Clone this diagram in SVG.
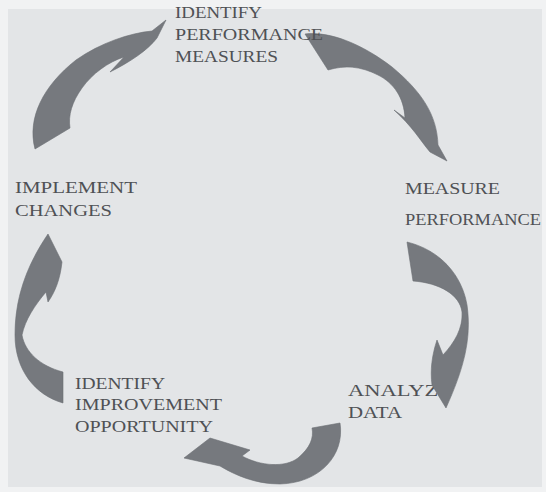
<svg xmlns="http://www.w3.org/2000/svg" width="546" height="492" viewBox="0 0 546 492">
<style>
.lbl{font-family:"Liberation Serif","Times New Roman",serif;font-size:17px;fill:#4f5155;}
.arr{fill:#76797e;stroke:#6c6f74;stroke-width:0.6;}
</style>
<rect x="0" y="0" width="546" height="492" fill="#f1f2f3"/>
<rect x="8" y="9" width="534" height="478" fill="#e3e5e7"/>
<g id="connectors">
<path class="arr" d="M35,149 C27,118 43,86 76,60 C100,43 130,33 152,31 L166,20 L157,38 C148,50 130,62 110,72 L124,57 C108,62 92,74 82,88 C72,102 68,115 70,128 Z"/>
<path class="arr" d="M305,34 C330,31 362,44 392,67 C422,92 437,115 438,145 L447,161 L430,152 C420,140 412,126 394,110 L405,118 C404,98 394,83 378,75 C360,66 345,65 328,70 Z"/>
</g>
<g id="n1">
<text class="lbl" x="175" y="18" textLength="87" lengthAdjust="spacingAndGlyphs">IDENTIFY</text>
<text class="lbl" x="175" y="40" textLength="148" lengthAdjust="spacingAndGlyphs">PERFORMANCE</text>
<text class="lbl" x="175" y="62" textLength="103" lengthAdjust="spacingAndGlyphs">MEASURES</text>
</g>
<g id="n2">
<text class="lbl" x="405" y="194" textLength="95" lengthAdjust="spacingAndGlyphs">MEASURE</text>
<text class="lbl" x="405" y="225" font-size="15" textLength="136" lengthAdjust="spacingAndGlyphs">PERFORMANCE</text>
</g>
<g id="n3">
<text class="lbl" x="348" y="396" textLength="104" lengthAdjust="spacingAndGlyphs">ANALYZE</text>
<text class="lbl" x="348" y="418" textLength="54" lengthAdjust="spacingAndGlyphs">DATA</text>
</g>
<g id="n4">
<text class="lbl" x="75" y="389" textLength="90" lengthAdjust="spacingAndGlyphs">IDENTIFY</text>
<text class="lbl" x="75" y="410" textLength="147" lengthAdjust="spacingAndGlyphs">IMPROVEMENT</text>
<text class="lbl" x="75" y="432" textLength="138" lengthAdjust="spacingAndGlyphs">OPPORTUNITY</text>
</g>
<g id="n5">
<text class="lbl" x="15" y="193" textLength="122" lengthAdjust="spacingAndGlyphs">IMPLEMENT</text>
<text class="lbl" x="15" y="216" textLength="97" lengthAdjust="spacingAndGlyphs">CHANGES</text>
</g>
<g id="connectors2">
<path class="arr" d="M407,242 C440,250 462,275 467,305 C472,340 463,370 446,408 L432,385 C430,370 432,355 437,340 L443,355 C455,342 463,328 462,312 C460,295 440,283 413,281 Z"/>
<path class="arr" d="M340,423 C345,455 320,483 280,484 C255,484 235,475 220,466 L184,458 L210,438 L250,450 L242,456 C260,466 285,468 298,458 C310,448 314,438 312,428 Z"/>
<path class="arr" d="M63,372 L63,403 C35,395 15,370 15,335 C15,300 25,268 48,234 L62,262 C60,280 55,292 48,302 L46,292 C35,305 25,320 22,335 C25,352 40,366 63,372 Z"/>
</g>
</svg>
